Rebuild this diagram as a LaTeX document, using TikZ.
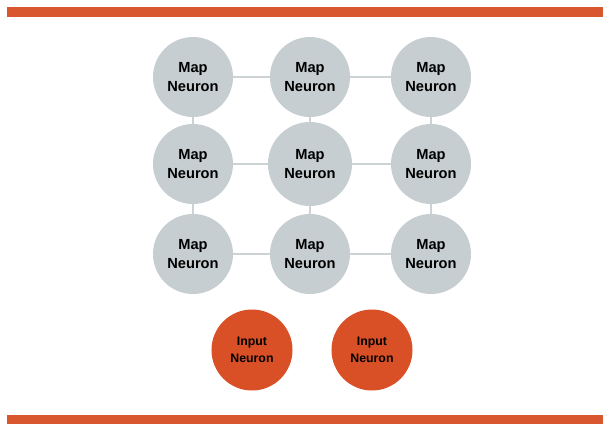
\documentclass[tikz,border=0pt]{standalone}
\usepackage{fontspec}
\setmainfont{Liberation Sans}
\usepackage{tikz}
\definecolor{barorange}{HTML}{D9572F}
\definecolor{inputorange}{HTML}{D94F26}
\definecolor{mapgray}{HTML}{C6CED1}
\definecolor{linkgray}{HTML}{CDD2D4}

\begin{document}
\begin{tikzpicture}[x=0.03cm, y=-0.03cm,
    mapneuron/.style={circle, fill=mapgray, minimum size=2.4cm, inner sep=0pt,
        align=center, font=\fontsize{12.5}{17}\selectfont\bfseries},
    inputneuron/.style={circle, fill=inputorange, minimum size=2.43cm, inner sep=0pt,
        align=center, font=\fontsize{10.5}{15}\selectfont\bfseries},
    link/.style={linkgray, line width=1.2pt}]
    \useasboundingbox (0, 0) rectangle (603, 424);

    % Bars
    \fill[barorange] (7, 7) rectangle (603, 17);
    \fill[barorange] (7, 415) rectangle (603, 424);

    % Map
    \node[mapneuron] (m11) at (193, 77) {Map\\Neuron};
    \node[mapneuron] (m12) at (310, 77) {Map\\Neuron};
    \node[mapneuron] (m13) at (431, 77) {Map\\Neuron};
    \node[mapneuron] (m21) at (193, 164) {Map\\Neuron};
    \node[mapneuron, minimum size=2.52cm] (m22) at (310, 164) {Map\\Neuron};
    \node[mapneuron] (m23) at (431, 164) {Map\\Neuron};
    \node[mapneuron] (m31) at (193, 254) {Map\\Neuron};
    \node[mapneuron] (m32) at (310, 254) {Map\\Neuron};
    \node[mapneuron] (m33) at (431, 254) {Map\\Neuron};

    % Links
    \draw[link] (m11) -- (m12);
    \draw[link] (m12) -- (m13);
    \draw[link] (m21) -- (m22);
    \draw[link] (m22) -- (m23);
    \draw[link] (m31) -- (m32);
    \draw[link] (m32) -- (m33);
    \draw[link] (m11) -- (m21);
    \draw[link] (m21) -- (m31);
    \draw[link] (m12) -- (m22);
    \draw[link] (m22) -- (m32);
    \draw[link] (m13) -- (m23);
    \draw[link] (m23) -- (m33);

    % Inputs
    \node[inputneuron] (in1) at (252, 350) {Input\\Neuron};
    \node[inputneuron] (in2) at (372, 350) {Input\\Neuron};
\end{tikzpicture}
\end{document}
